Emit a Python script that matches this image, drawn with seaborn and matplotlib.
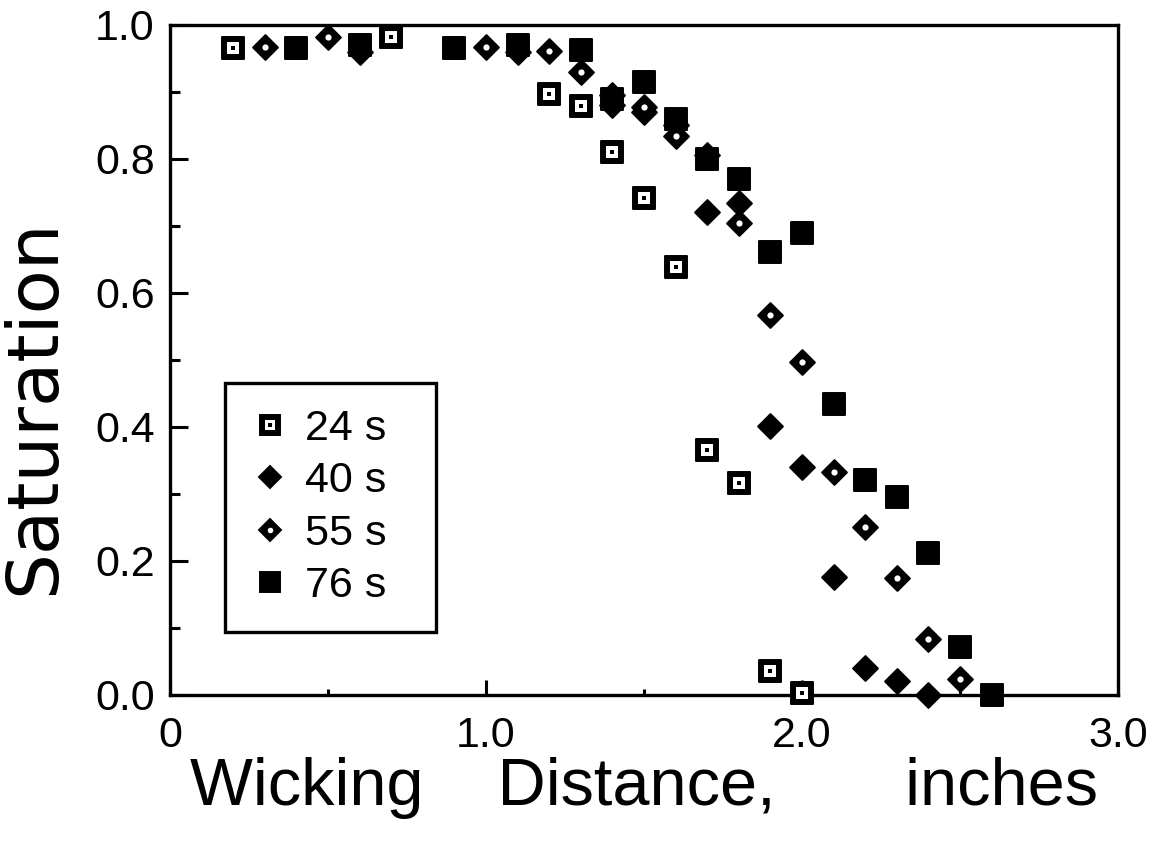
import numpy as np
import pandas as pd
import matplotlib
matplotlib.use("Agg")
import matplotlib.pyplot as plt
import seaborn as sns
from matplotlib.lines import Line2D
from matplotlib.ticker import FixedLocator

# Saturation profiles along the strip at four elapsed wicking times
dist_24 = [0.2, 0.7, 1.2, 1.3, 1.4, 1.5, 1.6, 1.7, 1.8, 1.9, 2.0]
sat_24 = [0.965, 0.982, 0.897, 0.879, 0.81, 0.742, 0.639, 0.366, 0.316, 0.036, 0.003]

dist_40 = [0.6, 1.1, 1.4, 1.5, 1.6, 1.7, 1.8, 1.9, 2.0, 2.1, 2.2, 2.3, 2.4]
sat_40 = [0.96, 0.96, 0.895, 0.87, 0.85, 0.721, 0.735, 0.402, 0.34, 0.176, 0.04, 0.021, 0.0]

dist_55 = [0.3, 0.5, 1.0, 1.2, 1.3, 1.4, 1.5, 1.6, 1.7, 1.8, 1.9, 2.0, 2.1, 2.2, 2.3, 2.4, 2.5]
sat_55 = [0.967, 0.982, 0.967, 0.961, 0.93, 0.88, 0.877, 0.835, 0.806, 0.705, 0.567, 0.497,
          0.333, 0.251, 0.175, 0.084, 0.024]

dist_76 = [0.4, 0.6, 0.9, 1.1, 1.3, 1.4, 1.5, 1.6, 1.7, 1.8, 1.9, 2.0, 2.1, 2.2, 2.3, 2.4, 2.5, 2.6]
sat_76 = [0.966, 0.97, 0.966, 0.97, 0.963, 0.89, 0.915, 0.86, 0.80, 0.77, 0.661, 0.69,
          0.434, 0.321, 0.296, 0.212, 0.072, 0.0]

series_labels = ["24 s", "40 s", "55 s", "76 s"]
x_ticks = [0, 1.0, 2.0, 3.0]
x_tick_labels = ["0", "1.0", "2.0", "3.0"]
y_ticks = [0.0, 0.2, 0.4, 0.6, 0.8, 1.0]
y_tick_labels = ["0.0", "0.2", "0.4", "0.6", "0.8", "1.0"]

frames = {
    "24 s": pd.DataFrame({"distance": dist_24, "saturation": sat_24}),
    "40 s": pd.DataFrame({"distance": dist_40, "saturation": sat_40}),
    "55 s": pd.DataFrame({"distance": dist_55, "saturation": sat_55}),
    "76 s": pd.DataFrame({"distance": dist_76, "saturation": sat_76}),
}

# Each symbol is built from stacked layers: (marker, area, colour, edge width)
symbol_layers = {
    "24 s": [("s", 240, "black", 1.4), ("s", 70, "white", 0), ("s", 9, "black", 0)],
    "40 s": [("D", 160, "black", 1.4)],
    "55 s": [("D", 160, "black", 1.4), ("o", 20, "white", 0)],
    "76 s": [("s", 240, "black", 1.4)],
}

sns.set_style("ticks")
plt.rcParams["font.family"] = ["Liberation Sans", "DejaVu Sans"]
plt.rcParams["text.color"] = "black"
plt.rcParams["axes.labelcolor"] = "black"
plt.rcParams["xtick.color"] = "black"
plt.rcParams["ytick.color"] = "black"

fig = plt.figure(figsize=(11.53, 8.5), dpi=100)
ax = fig.add_axes([0.1474, 0.1824, 0.8223, 0.7882])

for lab in series_labels:
    for marker, size, colour, edge in symbol_layers[lab]:
        sns.scatterplot(data=frames[lab], x="distance", y="saturation", marker=marker,
                        s=size, color=colour, edgecolor=colour, linewidth=edge, ax=ax,
                        legend=False, clip_on=False, zorder=3)

ax.set_xlim(0, 3.0)
ax.set_ylim(0, 1.0)

ax.xaxis.set_major_locator(FixedLocator(x_ticks))
ax.set_xticklabels(x_tick_labels)
ax.xaxis.set_minor_locator(FixedLocator([0.5, 1.5, 2.5]))
ax.yaxis.set_major_locator(FixedLocator(y_ticks))
ax.set_yticklabels(y_tick_labels)
ax.yaxis.set_minor_locator(FixedLocator([0.1, 0.3, 0.5, 0.7, 0.9]))

ax.tick_params(which="both", direction="in", top=False, right=False, width=2.2,
               colors="black", labelsize=31)
ax.tick_params(axis="y", which="major", length=13, pad=11)
ax.tick_params(axis="y", which="minor", length=7)
ax.tick_params(axis="x", which="major", length=11, pad=15)
ax.tick_params(axis="x", which="minor", length=4)

for side in ["left", "right", "top", "bottom"]:
    ax.spines[side].set_visible(True)
    ax.spines[side].set_linewidth(2.4)
    ax.spines[side].set_color("black")

ax.set_xlabel("Wicking    Distance,       inches", fontsize=48, color="black")
ax.set_ylabel("Saturation", fontsize=52, color="black", family=["DejaVu Sans"])
ax.xaxis.set_label_coords(0.5, -0.092)
ax.yaxis.set_label_coords(-0.1065, 0.43)

handles = []
for lab in series_labels:
    parts = tuple(
        Line2D([], [], linestyle="none", marker=m, markersize=np.sqrt(sz) * 0.9,
               markerfacecolor=c, markeredgecolor=c, markeredgewidth=e)
        for m, sz, c, e in symbol_layers[lab]
    )
    handles.append(parts)

leg = ax.legend(handles, [lab + "  " for lab in series_labels], loc="lower left",
                bbox_to_anchor=(0.058, 0.094), borderaxespad=0, frameon=True,
                fancybox=False, framealpha=1, edgecolor="black", fontsize=31,
                handlelength=0.9, handletextpad=0.35, labelspacing=0.29, borderpad=0.6)
leg.get_frame().set_linewidth(2.4)

fig.savefig("out.png", dpi=100, facecolor="white")
